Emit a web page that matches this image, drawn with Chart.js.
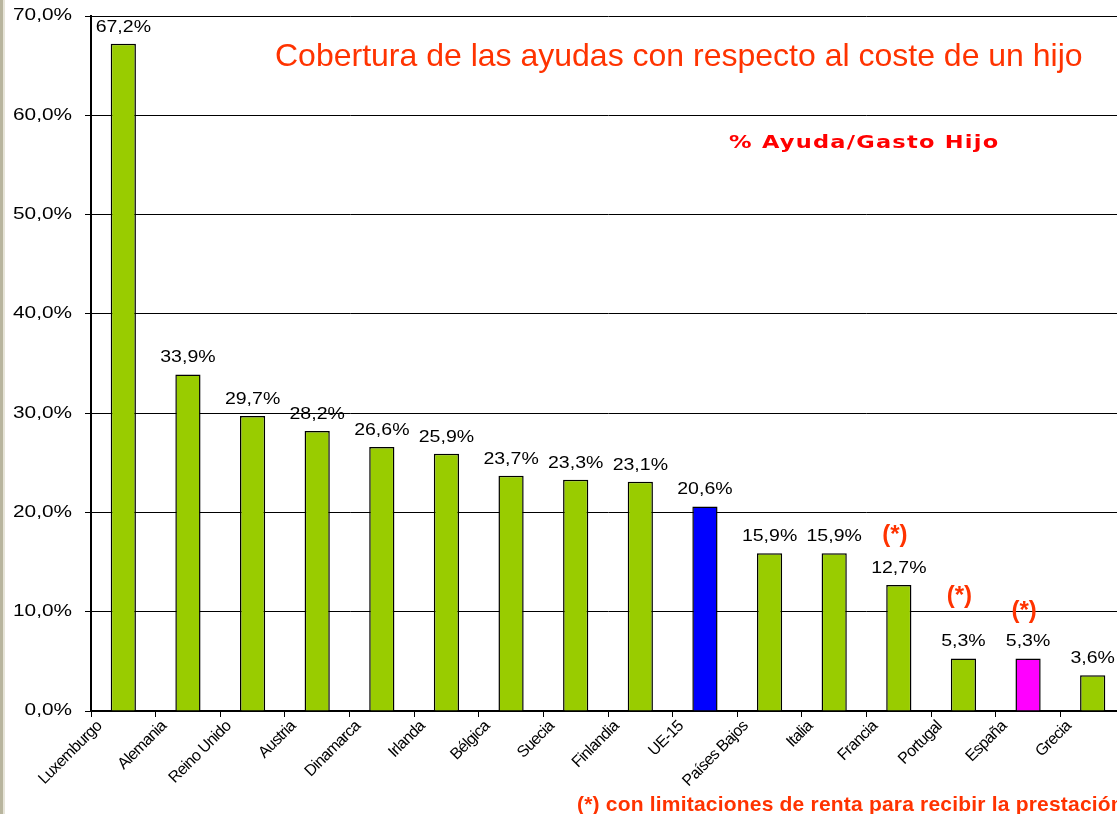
<!DOCTYPE html>
<html lang="es">
<head>
<meta charset="UTF-8">
<title>Cobertura de las ayudas con respecto al coste de un hijo</title>
<script src="https://cdn.jsdelivr.net/npm/chart.js@4.4.1/dist/chart.umd.min.js"></script>
<style>
  html, body { margin: 0; padding: 0; background: #fff; overflow: hidden; }
  #wrap { position: relative; width: 1117px; height: 814px; overflow: hidden; }
  #edge { position: absolute; left: 0; top: 0; width: 3px; height: 814px; background: #b8b59e; border-right: 2px solid #e6e4d8; }
  canvas { position: absolute; left: 0; top: 0; }
</style>
</head>
<body>
<div id="wrap">
  <canvas id="chart" width="1140" height="814"></canvas>
  <div id="edge"></div>
</div>
<script>
const paises = ['Luxemburgo', 'Alemania', 'Reino Unido', 'Austria', 'Dinamarca', 'Irlanda', 'Bélgica', 'Suecia',
  'Finlandia', 'UE-15', 'Países Bajos', 'Italia', 'Francia', 'Portugal', 'España', 'Grecia'];
const ayuda = [67.2, 33.9, 29.7, 28.2, 26.6, 25.9, 23.7, 23.3, 23.1, 20.6, 15.9, 15.9, 12.7, 5.3, 5.3, 3.6];
const colores = ['#99cc00', '#99cc00', '#99cc00', '#99cc00', '#99cc00', '#99cc00', '#99cc00', '#99cc00',
  '#99cc00', '#0000ff', '#99cc00', '#99cc00', '#99cc00', '#99cc00', '#ff00ff', '#99cc00'];
// altura (en %) de las marcas (*) de limitación de renta
const asterisco = [null, null, null, null, null, null, null, null, null, null, null, null, 17.7, 11.5, 10.0, null];

const arial = '"Liberation Sans", Arial, sans-serif';
const pct = v => v.toFixed(1).replace('.', ',') + '%';

function espaciado(scale, px) {
  if (scale._espaciado) return;
  scale._espaciado = true;
  const orig = scale.drawLabels;
  scale.drawLabels = function (area) {
    this.ctx.letterSpacing = px;
    orig.call(this, area);
    this.ctx.letterSpacing = '0px';
  };
}

// texto ensanchado horizontalmente, como en la diapositiva original
function ancho(ctx, txt, x, y, sx) {
  ctx.save();
  ctx.translate(x, y);
  ctx.scale(sx, 1);
  ctx.fillText(txt, 0, 0);
  ctx.restore();
}

const textos = {
  id: 'textos',
  afterDatasetsDraw(chart) {
    const ctx = chart.ctx;
    const meta = chart.getDatasetMeta(0);
    const y = chart.scales.y;
    ctx.save();
    ctx.fillStyle = '#000';
    ctx.font = '16px ' + arial;

    // etiquetas del eje Y
    ctx.textAlign = 'right';
    ctx.textBaseline = 'middle';
    y.ticks.forEach(t => ancho(ctx, pct(t.value), y.right - 19, y.getPixelForValue(t.value), 1.3));

    // valores encima de las barras
    ctx.textAlign = 'center';
    ctx.textBaseline = 'alphabetic';
    meta.data.forEach((bar, i) => ancho(ctx, pct(ayuda[i]), bar.x, bar.y - 12, 1.22));

    ctx.font = 'bold 24px ' + arial;
    ctx.fillStyle = '#ff3300';
    ctx.textBaseline = 'middle';
    meta.data.forEach((bar, i) => {
      if (asterisco[i] != null) ctx.fillText('(*)', bar.x - 4, y.getPixelForValue(asterisco[i]));
    });
    ctx.restore();
  },
  afterDraw(chart) {
    const ctx = chart.ctx;
    ctx.save();
    ctx.textAlign = 'left';
    ctx.textBaseline = 'alphabetic';
    ctx.fillStyle = '#ff3300';
    ctx.font = '32px ' + arial;
    ctx.fillText('Cobertura de las ayudas con respecto al coste de un hijo', 275, 66);
    ctx.font = 'bold 21px ' + arial;
    ctx.letterSpacing = '0.2px';
    ctx.fillText('(*) con limitaciones de renta para recibir la prestación', 577, 811);
    ctx.fillStyle = '#ff0000';
    ctx.font = 'bold 18px "DejaVu Sans", Verdana, sans-serif';
    ctx.letterSpacing = '1px';
    ancho(ctx, '% Ayuda/Gasto Hijo', 729, 148, 1.25);
    ctx.restore();
  }
};

new Chart(document.getElementById('chart'), {
  type: 'bar',
  data: {
    labels: paises,
    datasets: [{
      data: ayuda,
      backgroundColor: colores,
      borderColor: '#000',
      borderWidth: 1.5,
      barPercentage: 0.39,
      categoryPercentage: 1
    }]
  },
  options: {
    responsive: false,
    animation: false,
    layout: { padding: { top: 16, right: 15, left: 0, bottom: 0 } },
    plugins: { legend: { display: false }, tooltip: { enabled: false } },
    scales: {
      x: {
        grid: { offset: true, drawOnChartArea: false, color: '#000', tickLength: 6 },
        border: { color: '#000', width: 1.5 },
        ticks: {
          color: '#000', font: { size: 16, family: arial },
          minRotation: 45, maxRotation: 45, autoSkip: false, labelOffset: -24, padding: 0
        },
        afterFit(s) { s.height = 103; espaciado(s, '-0.7px'); }
      },
      y: {
        min: 0, max: 70,
        ticks: { stepSize: 10, display: false },
        grid: { color: '#000', lineWidth: 1, tickLength: 6 },
        border: { color: '#000', width: 2 },
        afterFit(s) { s.width = 91; }
      }
    }
  },
  plugins: [textos]
});
</script>
</body>
</html>
